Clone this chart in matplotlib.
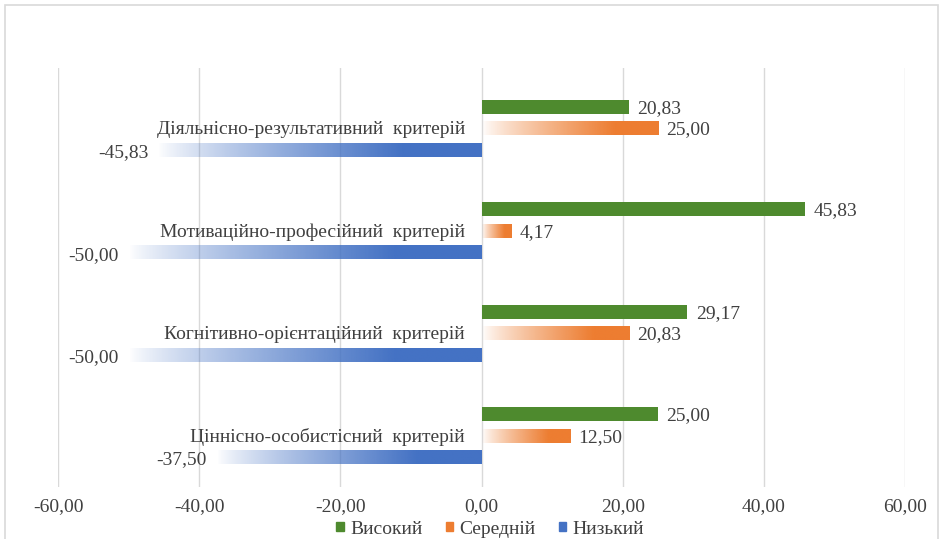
import numpy as np
import matplotlib
matplotlib.use("Agg")
import matplotlib.pyplot as plt
from matplotlib.patches import Rectangle
from matplotlib.colors import to_rgb

plt.rcParams['font.family'] = ['Liberation Serif', 'DejaVu Serif']

categories = ["Ціннісно-особистісний  критерій",
              "Когнітивно-орієнтаційний  критерій",
              "Мотиваційно-професійний  критерій",
              "Діяльнісно-результативний  критерій"]
high = [25.00, 29.17, 45.83, 20.83]
medium = [12.50, 20.83, 4.17, 25.00]
low = [-37.50, -50.00, -50.00, -45.83]
series_names = ["Високий", "Середній", "Низький"]
xticks = [-60, -40, -20, 0, 20, 40, 60]

c_high = "#4E8A2E"
c_med = "#ED7D31"
c_low = "#4472C4"
c_text = "#404040"
fs = 14

fig = plt.figure(figsize=(9.4, 5.39), dpi=100)
ax = fig.add_axes([58 / 940, 1 - 487 / 539, 847 / 940, (487 - 68) / 539])

ax.set_xlim(-60, 60)
ax.set_ylim(-0.5, 3.59)

h = 0.136
off = 0.21
y = np.arange(len(categories))


def fmt(v):
    return f"{v:.2f}".replace(".", ",")


def gradient_bar(x0, x1, yc, color):
    rgb = np.array(to_rgb(color))
    n = 256
    t = np.linspace(0, 1, n)
    alpha = np.clip(t / 0.75, 0, 1) ** 0.8
    img = np.zeros((1, n, 4))
    img[0, :, :3] = rgb
    img[0, :, 3] = alpha
    left, right = min(x0, x1), max(x0, x1)
    ax.imshow(img, extent=(left, right, yc - h / 2, yc + h / 2),
              aspect="auto", interpolation="bilinear", zorder=3)


# solid bars for the high level
ax.barh(y + off, high, height=h, color=c_high, zorder=3, label=series_names[0])
for yi, v in zip(y, high):
    ax.annotate(fmt(v), (v, yi + off), xytext=(6, -1), textcoords="offset points",
                ha="left", va="center", fontsize=fs, color=c_text)

# gradient bars for the medium and low levels
for yi, v in zip(y, medium):
    gradient_bar(0, v, yi, c_med)
    ax.annotate(fmt(v), (v, yi), xytext=(6, -1), textcoords="offset points",
                ha="left", va="center", fontsize=fs, color=c_text)
for yi, v in zip(y, low):
    gradient_bar(v, 0, yi - off, c_low)
    ax.annotate(fmt(v), (v, yi - off), xytext=(-7, -2), textcoords="offset points",
                ha="right", va="center", fontsize=fs, color=c_text)

# category names beside the axis
for yi, name in zip(y, categories):
    ax.annotate(name, (0, yi), xytext=(-12, -1), textcoords="offset points",
                ha="right", va="center", fontsize=fs, color=c_text)

ax.set_xticks(xticks)
ax.set_xticklabels([fmt(t) for t in xticks], fontsize=fs, color=c_text)
ax.set_yticks([])
ax.tick_params(axis="x", length=0, pad=8)
ax.grid(axis="x", color="#D9D9D9", linewidth=1, zorder=0)
for s in ax.spines.values():
    s.set_visible(False)

handles = [Rectangle((0, 0), 1, 1, color=c) for c in (c_high, c_med, c_low)]
fig.legend(handles, series_names, loc="center", bbox_to_anchor=(490 / 940, 1 - 529 / 539),
           ncol=3, frameon=False, fontsize=fs, handlelength=0.4, handleheight=0.4,
           handletextpad=0.3, columnspacing=1.2, labelcolor=c_text,
           borderpad=0, borderaxespad=0)

# chart frame
fig.patches.append(Rectangle((5 / 940, -0.01), 933 / 940, 1 - 5 / 539 + 0.01,
                             transform=fig.transFigure, fill=False,
                             edgecolor="#D9D9D9", linewidth=1.2))

fig.savefig("out.png", dpi=100, facecolor="white")
